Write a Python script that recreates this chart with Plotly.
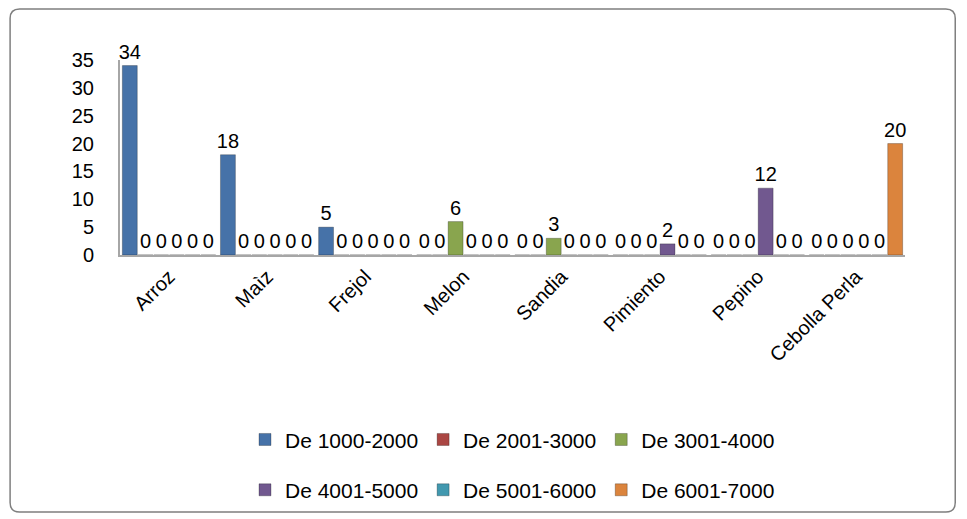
import plotly.graph_objects as go

categories = ["Arroz", "Maìz", "Frejol", "Melon", "Sandia", "Pimiento", "Pepino", "Cebolla Perla"]
series_names = ["De 1000-2000", "De 2001-3000", "De 3001-4000",
                "De 4001-5000", "De 5001-6000", "De 6001-7000"]
v_1000_2000 = [34, 18, 5, 0, 0, 0, 0, 0]
v_2001_3000 = [0, 0, 0, 0, 0, 0, 0, 0]
v_3001_4000 = [0, 0, 0, 6, 3, 0, 0, 0]
v_4001_5000 = [0, 0, 0, 0, 0, 2, 12, 0]
v_5001_6000 = [0, 0, 0, 0, 0, 0, 0, 0]
v_6001_7000 = [0, 0, 0, 0, 0, 0, 0, 20]
y_ticks = [0, 5, 10, 15, 20, 25, 30, 35]

values = [v_1000_2000, v_2001_3000, v_3001_4000, v_4001_5000, v_5001_6000, v_6001_7000]
colors = ["#4672A8", "#AA4643", "#89A54E", "#71588F", "#4198AF", "#DB843D"]
legends = ["legend", "legend", "legend", "legend2", "legend2", "legend2"]

FONT = "Liberation Sans"

fig = go.Figure()
for name, vals, col, lg in zip(series_names, values, colors, legends):
    fig.add_trace(go.Bar(
        x=categories, y=vals, name=name,
        marker=dict(color=col, line=dict(color="rgba(0,0,0,0.25)", width=1)),
        text=vals, texttemplate="%{text}", textposition="outside",
        textfont=dict(family=FONT, size=20, color="black"),
        constraintext="none",
        cliponaxis=False, legend=lg,
    ))

# rounded outer border (paper coords relative to plot area)
x0, x1, y0, y1, r = -0.140, 1.064, -1.318, 1.262, 0.012
ry = r * 785 / 195
border_path = (f"M {x0+r},{y1} L {x1-r},{y1} Q {x1},{y1} {x1},{y1-ry} "
               f"L {x1},{y0+ry} Q {x1},{y0} {x1-r},{y0} L {x0+r},{y0} "
               f"Q {x0},{y0} {x0},{y0+ry} L {x0},{y1-ry} Q {x0},{y1} {x0+r},{y1} Z")

fig.update_layout(
    width=967, height=519,
    paper_bgcolor="white", plot_bgcolor="white",
    barmode="group", bargap=0.04, bargroupgap=0.05,
    margin=dict(l=112, r=70, t=52, b=272, autoexpand=False),
    font=dict(family=FONT, size=20, color="black"),
    showlegend=True,
    legend=dict(orientation="h", x=0.5, xanchor="center",
                yref="container", y=0.168, yanchor="middle",
                font=dict(family=FONT, size=21), itemwidth=30,
                bgcolor="rgba(0,0,0,0)"),
    legend2=dict(orientation="h", x=0.5, xanchor="center",
                 yref="container", y=0.071, yanchor="middle",
                 font=dict(family=FONT, size=21), itemwidth=30,
                 bgcolor="rgba(0,0,0,0)"),
    xaxis=dict(tickangle=-45, tickfont=dict(family=FONT, size=20),
               showline=True, linecolor="#A6A6A6", linewidth=2,
               showgrid=False, ticks=""),
    yaxis=dict(range=[0, 35], tickvals=y_ticks, ticktext=[str(t) for t in y_ticks],
               tickfont=dict(family=FONT, size=20),
               showline=True, linecolor="#A6A6A6", linewidth=2,
               showgrid=False, zeroline=False, ticks="", ticklabelstandoff=20),
    shapes=[dict(type="path", xref="paper", yref="paper", path=border_path,
                 line=dict(color="#7F7F7F", width=1.5), fillcolor="rgba(0,0,0,0)",
                 layer="below")],
)

fig.write_html("out.html")
